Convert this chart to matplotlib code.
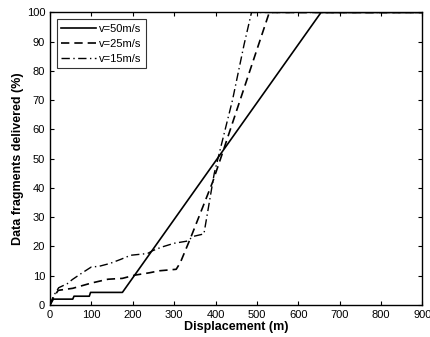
import matplotlib
matplotlib.use('Agg')
import matplotlib.pyplot as plt

plt.rcParams['font.family'] = ['Liberation Sans', 'DejaVu Sans']

# displacement (m) vs fragments delivered (%)
x50 = [0, 8, 55, 58, 95, 98, 175, 655, 900]
y50 = [0, 2, 2, 3, 3, 4.3, 4.3, 100, 100]

x25 = [0, 10, 20, 55, 75, 100, 140, 175, 205, 240, 265, 305, 315, 340,
       393, 417, 530, 900]
y25 = [0, 3, 5, 5.7, 6.5, 7.5, 8.8, 9.1, 10.2, 11, 11.7, 12.2, 14.5, 23,
       42, 52, 100, 100]

x15 = [0, 8, 21, 42, 54, 78, 100, 118, 145, 171, 195, 236, 247, 270, 300,
       330, 348, 372, 397, 441, 469, 487, 900]
y15 = [0, 3, 5.9, 7.3, 8.7, 11, 13, 13.2, 14.2, 15.6, 17, 17.6, 18.5, 19.8,
       21.1, 21.8, 23.5, 24.3, 45, 70, 89, 100, 100]

labels = ['v=50m/s', 'v=25m/s', 'v=15m/s']

fig = plt.figure(figsize=(4.31, 3.37), dpi=100)
ax = fig.add_axes([0.116, 0.095, 0.864, 0.868])

ax.plot(x50, y50, 'k-', lw=1.2, label=labels[0])
ax.plot(x25, y25, 'k--', lw=1.2, dashes=(5, 3), label=labels[1])
ax.plot(x15, y15, 'k-.', lw=1.0, dashes=(6, 2.5, 1, 2.5), label=labels[2])

ax.set_xlim(0, 900)
ax.set_ylim(0, 100)
ax.set_xticks(range(0, 901, 100))
ax.set_yticks(range(0, 101, 10))
ax.tick_params(direction='in', top=True, right=True, labelsize=8, length=3)
for s in ax.spines.values():
    s.set_linewidth(1.0)

ax.set_xlabel('Displacement (m)', fontsize=9, fontweight='bold', labelpad=1)
ax.set_ylabel('Data fragments delivered (%)', fontsize=9, fontweight='bold', labelpad=2)

leg = ax.legend(loc='upper left', fontsize=8, handlelength=3.1, frameon=True,
                fancybox=False, edgecolor='k', borderaxespad=0.6,
                labelspacing=0.45, handletextpad=0.3)
leg.get_frame().set_linewidth(0.8)

fig.savefig('out.png', dpi=100)
